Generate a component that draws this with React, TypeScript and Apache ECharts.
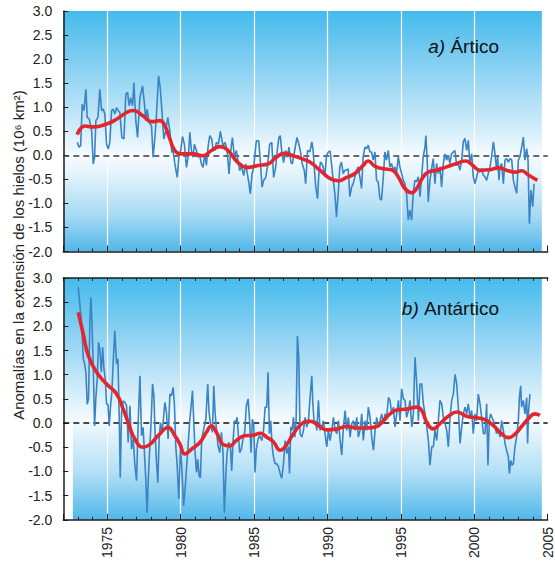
import React, { useEffect, useRef } from "react";
import * as echarts from "echarts";

// ---- Data ----
const arcticMonthly: [number, number][] = [
  [1972.95,0.27],[1973.07,0.17],[1973.18,0.20],[1973.29,1.06],[1973.41,0.93],[1973.54,1.37],[1973.63,0.79],[1973.77,0.75],[1973.93,0.51],[1974.04,-0.18],[1974.13,-0.04],[1974.22,0.72],[1974.36,0.79],[1974.49,1.37],[1974.61,0.93],[1974.72,0.96],[1974.83,0.86],[1974.95,0.23],[1975.06,0.13],[1975.17,0.27],[1975.29,0.93],[1975.40,0.96],[1975.51,0.86],[1975.63,0.99],[1975.74,0.93],[1975.85,0.89],[1975.99,0.37],[1976.13,0.34],[1976.26,1.27],[1976.38,1.31],[1976.49,1.03],[1976.60,1.20],[1976.72,1.03],[1976.81,1.51],[1976.94,0.72],[1977.06,0.37],[1977.22,1.20],[1977.40,1.44],[1977.53,1.06],[1977.62,0.72],[1977.71,0.96],[1977.85,0.68],[1978.01,0.61],[1978.12,-0.04],[1978.24,0.37],[1978.35,0.86],[1978.49,1.65],[1978.60,1.41],[1978.71,0.96],[1978.85,0.34],[1978.98,0.51],[1979.12,0.79],[1979.26,0.51],[1979.39,0.06],[1979.48,0.10],[1979.60,-0.18],[1979.76,-0.46],[1979.89,0.03],[1980.00,0.10],[1980.12,0.39],[1980.25,0.23],[1980.39,-0.25],[1980.53,0.03],[1980.62,0.48],[1980.73,0.10],[1980.84,-0.04],[1980.93,0.23],[1981.07,0.10],[1981.18,-0.04],[1981.30,-0.01],[1981.41,-0.18],[1981.52,-0.25],[1981.64,0.03],[1981.75,-0.21],[1981.86,0.17],[1981.98,0.41],[1982.11,0.34],[1982.20,0.13],[1982.32,0.10],[1982.43,0.27],[1982.57,0.23],[1982.70,0.50],[1982.79,0.34],[1982.88,0.20],[1983.02,0.27],[1983.16,0.10],[1983.29,-0.39],[1983.41,0.10],[1983.52,0.37],[1983.66,-0.04],[1983.79,0.10],[1983.93,-0.18],[1984.02,-0.32],[1984.13,-0.21],[1984.29,-0.42],[1984.43,-0.18],[1984.54,-0.39],[1984.65,-0.59],[1984.74,-0.80],[1984.86,-0.39],[1984.97,-0.25],[1985.15,0.30],[1985.31,0.30],[1985.42,-0.11],[1985.54,-0.66],[1985.65,-0.52],[1985.79,-0.46],[1985.92,-0.21],[1986.06,0.23],[1986.20,0.27],[1986.33,-0.46],[1986.47,-0.25],[1986.56,0.06],[1986.69,0.37],[1986.78,0.41],[1986.90,0.03],[1987.01,-0.15],[1987.15,0.10],[1987.28,-0.04],[1987.37,0.17],[1987.51,-0.15],[1987.60,-0.18],[1987.76,0.10],[1987.92,0.37],[1988.05,0.23],[1988.14,0.10],[1988.28,-0.18],[1988.42,-0.32],[1988.51,-0.59],[1988.64,0.10],
  [1988.80,0.07],[1988.93,0.28],[1989.02,0.10],[1989.11,-0.31],[1989.20,-0.66],[1989.32,-0.90],[1989.41,-0.38],[1989.52,-0.14],[1989.61,-0.17],[1989.70,-0.24],[1989.82,-0.45],[1989.93,0.00],[1990.07,0.07],[1990.18,0.09],[1990.27,-0.17],[1990.39,-0.52],[1990.50,-0.79],[1990.61,-1.28],[1990.73,-0.79],[1990.84,-0.24],[1990.95,-0.14],[1991.07,-0.38],[1991.18,-0.31],[1991.30,-0.31],[1991.41,-0.28],[1991.52,-0.86],[1991.64,-0.66],[1991.75,-0.59],[1991.86,-0.45],[1991.98,-0.31],[1992.09,-0.24],[1992.20,-0.45],[1992.32,-0.69],[1992.43,-0.03],[1992.55,0.17],[1992.66,0.14],[1992.77,0.21],[1992.89,0.07],[1993.00,0.07],[1993.11,-0.10],[1993.23,0.07],[1993.34,-0.52],[1993.45,-0.55],[1993.57,-0.90],[1993.68,-0.93],[1993.80,-0.45],[1993.91,0.07],[1994.02,-0.10],[1994.14,0.10],[1994.25,-0.24],[1994.36,-0.17],[1994.48,-0.31],[1994.59,-0.24],[1994.70,-0.38],[1994.82,-0.03],[1994.93,-0.24],[1995.05,-0.38],[1995.16,-0.52],[1995.27,-0.59],[1995.39,-0.83],[1995.50,-1.35],[1995.61,-1.14],[1995.73,-1.35],[1995.84,-0.79],[1995.95,-0.52],[1996.07,-0.55],[1996.18,-0.45],[1996.30,-0.86],[1996.41,-0.45],[1996.52,-0.03],[1996.64,0.17],[1996.70,0.41],[1996.80,-0.17],[1996.86,-0.97],[1996.98,-0.52],[1997.09,-0.28],[1997.20,-0.07],[1997.32,-0.59],[1997.43,-0.17],[1997.55,-0.38],[1997.66,-0.24],[1997.77,-0.66],[1997.89,-0.17],[1998.00,0.03],[1998.11,-0.10],[1998.23,0.00],[1998.34,-0.17],[1998.45,0.03],[1998.57,0.07],[1998.68,0.10],[1998.80,-0.21],[1998.91,-0.17],[1999.02,-0.31],[1999.14,-0.10],[1999.25,0.28],[1999.36,0.35],[1999.48,0.10],[1999.59,0.31],[1999.70,-0.17],[1999.82,0.03],[1999.93,-0.45],[2000.05,-0.59],[2000.16,-0.45],[2000.27,-0.31],[2000.39,-0.35],[2000.50,-0.28],[2000.61,-0.41],[2000.73,-0.45],[2000.84,-0.52],[2000.95,-0.38],[2001.07,-0.24],[2001.18,-0.03],[2001.30,0.28],[2001.41,0.03],[2001.52,-0.31],[2001.59,-0.03],[2001.68,-0.52],[2001.75,-0.24],[2001.86,-0.17],[2001.98,-0.59],[2002.09,-0.10],[2002.20,-0.07],[2002.32,-0.14],[2002.43,-0.07],[2002.55,-0.10],[2002.66,-0.52],[2002.77,-0.66],[2002.89,-0.79],[2003.00,-0.10],[2003.11,-0.03],[2003.23,0.17],[2003.34,0.38],[2003.45,-0.10],[2003.57,0.14],[2003.66,-0.10],[2003.75,-1.42],[2003.86,-0.72],[2003.98,-1.07],[2004.07,-0.59],
];

const arcticTrend: [number, number][] = [
  [1972.95,0.43],[1973.47,0.61],[1974.04,0.59],[1974.95,0.65],[1975.63,0.75],[1976.31,0.89],[1976.76,0.93],[1977.44,0.82],[1978.01,0.70],[1978.58,0.72],[1978.92,0.61],[1979.26,0.34],[1979.60,0.10],[1980.05,0.03],[1980.84,0.03],[1981.52,-0.01],[1982.09,0.10],[1982.66,0.18],[1983.22,0.10],[1983.90,-0.15],[1984.59,-0.25],[1985.27,-0.21],[1985.95,-0.18],[1986.51,-0.04],[1987.08,0.04],[1987.65,-0.01],[1988.33,-0.08],[1988.80,-0.14],[1989.48,-0.31],[1990.16,-0.48],[1990.73,-0.53],[1991.30,-0.46],[1991.86,-0.38],[1992.43,-0.21],[1992.77,-0.12],[1993.23,-0.23],[1993.80,-0.28],[1994.36,-0.30],[1994.82,-0.45],[1995.27,-0.69],[1995.73,-0.78],[1996.07,-0.69],[1996.52,-0.45],[1996.86,-0.35],[1997.43,-0.31],[1998.11,-0.24],[1998.80,-0.17],[1999.41,-0.12],[1999.82,-0.19],[2000.39,-0.31],[2001.07,-0.30],[2001.64,-0.26],[2002.20,-0.31],[2002.77,-0.35],[2003.23,-0.32],[2003.68,-0.41],[2004.30,-0.52],
];

const antarcticMonthly: [number, number][] = [
  [1973.02,2.81],[1973.09,2.57],[1973.18,2.29],[1973.27,1.95],[1973.36,1.33],[1973.45,1.22],[1973.54,1.05],[1973.63,0.39],[1973.72,0.50],[1973.81,2.09],[1973.88,2.60],[1973.95,2.09],[1974.04,1.19],[1974.13,-0.06],[1974.22,0.53],[1974.31,0.91],[1974.40,1.67],[1974.49,1.53],[1974.59,1.05],[1974.68,1.57],[1974.77,1.12],[1974.86,0.91],[1974.95,0.39],[1975.04,0.39],[1975.13,-0.06],[1975.22,0.36],[1975.31,0.64],[1975.40,1.26],[1975.51,1.91],[1975.63,1.22],[1975.72,1.33],[1975.81,0.15],[1975.88,-1.13],[1975.97,0.22],[1976.08,0.46],[1976.20,0.43],[1976.31,0.36],[1976.42,-0.40],[1976.54,0.36],[1976.65,-0.54],[1976.76,-0.33],[1976.88,-0.88],[1976.99,-1.19],[1977.10,0.01],[1977.22,0.98],[1977.33,-0.26],[1977.44,-0.09],[1977.56,-0.81],[1977.62,-1.16],[1977.71,-1.85],[1977.80,-1.09],[1977.90,-0.47],[1977.99,0.08],[1978.08,0.81],[1978.17,0.57],[1978.26,-0.26],[1978.35,-0.81],[1978.44,-1.23],[1978.53,-0.33],[1978.62,0.01],[1978.71,-0.16],[1978.80,0.01],[1978.92,0.43],[1979.03,0.22],[1979.14,-0.33],[1979.26,0.60],[1979.37,0.57],[1979.48,0.74],[1979.57,0.39],[1979.66,-0.47],[1979.76,-0.88],[1979.87,-1.57],[1979.98,-0.54],[1980.07,-0.88],[1980.19,-1.71],[1980.28,-1.44],[1980.39,-0.95],[1980.50,-0.47],[1980.62,0.08],[1980.71,0.36],[1980.80,0.67],[1980.89,0.01],[1980.98,-0.61],[1981.07,-1.02],[1981.16,-0.75],[1981.25,-1.09],[1981.34,-1.13],[1981.43,-0.33],[1981.57,-0.12],[1981.71,0.08],[1981.84,0.81],[1981.93,0.22],[1982.02,0.01],[1982.16,-0.19],[1982.25,0.77],[1982.34,0.22],[1982.43,-0.12],[1982.54,-0.47],[1982.66,-0.61],[1982.77,-0.19],[1982.88,-0.61],[1982.97,-1.85],[1983.07,-1.09],[1983.16,-0.61],[1983.27,-0.40],[1983.38,-0.47],[1983.47,-0.99],[1983.56,-0.40],[1983.66,0.05],[1983.75,0.01],[1983.84,0.12],[1983.93,-0.26],[1984.02,-0.61],[1984.13,-0.54],[1984.24,-0.33],[1984.36,-0.19],[1984.47,0.36],[1984.59,0.50],[1984.70,0.01],[1984.79,-0.61],[1984.88,0.08],[1984.97,-0.02],[1985.06,-1.02],[1985.15,-0.54],[1985.27,-0.33],[1985.38,-0.26],
  [1985.52,-0.36],[1985.64,-0.15],[1985.75,0.33],[1985.86,0.33],[1985.95,1.05],[1986.04,-0.22],[1986.13,0.05],[1986.23,-0.49],[1986.32,-0.70],[1986.43,-0.84],[1986.54,-0.84],[1986.66,-0.90],[1986.77,-1.04],[1986.88,-1.14],[1987.00,-0.84],[1987.11,-0.36],[1987.22,-0.63],[1987.34,-0.49],[1987.41,-1.04],[1987.50,-0.08],[1987.59,-0.15],[1987.68,0.12],[1987.77,-0.29],[1987.86,0.05],[1987.95,1.80],[1988.04,1.36],[1988.13,-0.22],[1988.25,-0.29],[1988.36,-0.15],[1988.47,0.12],[1988.59,-0.08],[1988.70,0.05],[1988.81,0.53],[1988.93,0.98],[1988.99,0.47],[1989.09,-0.01],[1989.18,0.05],[1989.27,-0.15],[1989.38,0.47],[1989.49,-0.15],[1989.61,-0.08],[1989.72,0.05],[1989.83,-0.22],[1989.95,-0.49],[1990.06,-0.15],[1990.17,-0.36],[1990.29,-0.15],[1990.40,0.12],[1990.52,-0.15],[1990.63,-0.22],[1990.74,0.05],[1990.86,-0.36],[1990.97,-0.66],[1991.08,-0.08],[1991.20,0.26],[1991.31,-0.15],[1991.42,0.12],[1991.54,-0.29],[1991.65,-0.01],[1991.76,0.05],[1991.88,-0.15],[1991.99,0.12],[1992.10,-0.29],[1992.22,-0.15],[1992.33,0.19],[1992.44,-0.36],[1992.56,0.05],[1992.67,-0.15],[1992.78,0.33],[1992.90,0.12],[1993.01,-0.29],[1993.13,-0.56],[1993.24,-0.15],[1993.35,0.12],[1993.47,-0.08],[1993.58,0.05],[1993.69,0.19],[1993.81,-0.01],[1993.92,0.19],[1994.03,0.12],[1994.15,0.53],[1994.26,0.47],[1994.37,0.19],[1994.49,0.33],[1994.60,-0.08],[1994.71,0.19],[1994.83,0.47],[1994.94,0.05],[1995.05,0.71],[1995.17,0.50],[1995.28,0.47],[1995.39,0.12],[1995.51,0.26],[1995.62,0.47],[1995.74,-0.08],[1995.85,0.19],[1995.96,1.36],[1996.08,0.81],[1996.19,0.05],[1996.30,0.81],[1996.42,0.81],[1996.53,0.40],[1996.64,0.19],[1996.76,-0.08],[1996.87,-0.36],[1996.98,-0.87],[1997.10,-0.49],[1997.21,-0.49],[1997.32,-0.15],[1997.44,-0.36],[1997.55,0.05],[1997.66,0.47],[1997.78,0.40],[1997.89,0.12],[1998.01,-0.01],[1998.12,-0.15],[1998.23,-0.49],[1998.35,0.12],[1998.46,0.47],[1998.57,0.60],[1998.69,1.01],[1998.80,0.81],[1998.91,0.33],[1999.03,-0.42],[1999.14,-0.08],[1999.25,0.19],[1999.37,0.33],[1999.48,0.19],[1999.59,0.40],[1999.71,0.12],[1999.82,0.26],[1999.93,-0.22],[2000.05,0.19],[2000.16,0.05],[2000.27,0.60],[2000.39,0.40],[2000.50,0.12],[2000.62,-0.22],[2000.73,-0.22],[2000.84,0.40],[2000.93,-0.87],[2001.02,0.05],[2001.11,0.19],[2001.20,0.12],[2001.30,0.05],[2001.41,-0.08],[2001.52,-0.22],[2001.64,-0.15],[2001.75,-0.29],[2001.86,0.05],[2001.98,-0.15],[2002.09,-0.42],[2002.20,-0.56],[2002.32,-0.70],[2002.39,-1.04],[2002.48,-0.77],[2002.57,-0.87],[2002.66,-0.84],[2002.77,-0.49],[2002.88,-0.29],[2003.00,0.05],[2003.07,0.53],[2003.16,0.77],[2003.22,0.33],[2003.34,0.47],[2003.45,0.19],[2003.57,0.53],[2003.63,-0.42],[2003.70,0.26],[2003.79,0.60],
];

const antarcticTrend: [number, number][] = [
  [1973.02,2.29],[1973.36,1.84],[1973.70,1.40],[1974.27,1.05],[1974.95,0.81],[1975.63,0.60],[1976.08,0.29],[1976.42,0.01],[1976.88,-0.33],[1977.44,-0.50],[1977.90,-0.44],[1978.46,-0.26],[1979.14,-0.09],[1979.60,-0.26],[1979.94,-0.43],[1980.28,-0.64],[1980.73,-0.54],[1981.30,-0.40],[1981.75,-0.19],[1982.09,-0.06],[1982.43,-0.19],[1982.88,-0.44],[1983.34,-0.47],[1983.79,-0.36],[1984.36,-0.26],[1984.93,-0.25],[1985.41,-0.21],[1985.86,-0.29],[1986.32,-0.39],[1986.77,-0.56],[1987.11,-0.49],[1987.68,-0.22],[1988.25,-0.01],[1988.81,0.04],[1989.38,-0.05],[1989.95,-0.14],[1990.63,-0.12],[1991.31,-0.07],[1991.99,-0.10],[1992.67,-0.10],[1993.35,-0.07],[1993.81,0.05],[1994.26,0.19],[1994.71,0.27],[1995.39,0.29],[1996.08,0.33],[1996.42,0.26],[1996.76,0.02],[1997.21,-0.12],[1997.66,-0.01],[1998.23,0.14],[1998.80,0.23],[1999.48,0.14],[2000.16,0.11],[2000.73,0.07],[2001.30,-0.05],[2001.86,-0.22],[2002.32,-0.30],[2002.77,-0.23],[2003.22,-0.07],[2003.68,0.09],[2004.13,0.19],[2004.47,0.16],
];

const xLabelYears = [1975, 1980, 1985, 1990, 1995, 2000, 2005];
const titleA = "Ártico";
const titleB = "Antártico";
const yAxisTitle = "Anomalías en la extensión de los hielos (10\u2076 km\u00b2)";

// ---- Styles ----
const FONT = "Liberation Sans, Arial, sans-serif";
const AXIS_COLOR = "#1c1c1c";
const BLUE = "#3a84c5";
const RED = "#e2262c";

const grad = (stops: [number, string][]) => ({
  type: "linear",
  x: 0, y: 0, x2: 0, y2: 1,
  colorStops: stops.map(([offset, color]) => ({ offset, color })),
});

const xAxisBase = (gridIndex: number, position: "top" | "bottom", labels: boolean, split: boolean) => ({
  type: "value",
  gridIndex,
  position,
  min: 1972,
  max: 2005,
  minInterval: 5,
  maxInterval: 5,
  z: 3,
  axisLine: { show: true, onZero: false, lineStyle: { color: AXIS_COLOR, width: 1.5 } },
  axisTick: { show: true, inside: true, length: position === "top" ? 3 : 6, lineStyle: { color: AXIS_COLOR, width: 1 } },
  minorTick: { show: true, splitNumber: 5, length: 3, lineStyle: { color: AXIS_COLOR, width: 1 } },
  minorSplitLine: { show: false },
  splitLine: { show: split, showMinLine: false, showMaxLine: false, lineStyle: { color: "#ffffff", width: 1.2 } },
  axisLabel: {
    show: labels,
    rotate: 90,
    margin: 7,
    fontSize: 14,
    fontFamily: FONT,
    color: "#222",
    showMinLabel: false,
    formatter: (v: number) => (xLabelYears.includes(v) ? String(v) : ""),
  },
});

const yAxisBase = (gridIndex: number) => ({
  type: "value",
  gridIndex,
  min: -2,
  max: 3,
  interval: 0.5,
  z: 3,
  axisLine: { show: true, onZero: false, lineStyle: { color: AXIS_COLOR, width: 1.5 } },
  axisTick: { show: true, inside: true, length: 5, lineStyle: { color: AXIS_COLOR, width: 1 } },
  splitLine: { show: false },
  axisLabel: {
    margin: 11,
    fontSize: 14,
    fontFamily: FONT,
    color: "#222",
    formatter: (v: number) => v.toFixed(1),
  },
});

const zeroLine = (color: string) => ({
  silent: true,
  symbol: ["none", "none"],
  label: { show: false },
  lineStyle: { color, width: 1.5, type: [6, 4] },
  data: [{ yAxis: 0 }],
});

export default function App() {
  const ref = useRef<HTMLDivElement>(null);

  useEffect(() => {
    if (!ref.current) return;
    const chart = echarts.init(ref.current, undefined, { renderer: "svg" });

    const option: any = {
      animation: false,
      backgroundColor: "#ffffff",
      grid: [
        { left: 63.3, top: 11, width: 484.4, height: 240.5, show: false },
        { left: 63.3, top: 278, width: 484.4, height: 243.5, show: false },
      ],
      xAxis: [
        xAxisBase(0, "bottom", false, true),
        xAxisBase(1, "bottom", true, true),
        xAxisBase(1, "top", false, false),
      ],
      yAxis: [yAxisBase(0), yAxisBase(1)],
      series: [
        {
          type: "line",
          xAxisIndex: 0,
          yAxisIndex: 0,
          data: arcticMonthly,
          symbol: "none",
          z: 6,
          lineStyle: { color: BLUE, width: 1.6 },
          markArea: {
            silent: true,
            label: { show: false },
            data: [
              [
                {
                  xAxis: 1972,
                  yAxis: 3,
                  itemStyle: {
                    color: grad([
                      [0, "#44bbec"],
                      [0.2, "#7fcdf1"],
                      [0.45, "#c6e8f9"],
                      [0.6, "#f6fbfe"],
                      [0.68, "#e4f3fc"],
                      [0.85, "#a6daf4"],
                      [1, "#50b7ea"],
                    ]),
                  },
                },
                { xAxis: 2004.6, yAxis: -2 },
              ],
            ],
          },
          markLine: zeroLine("#3a3a3a"),
        },
        {
          type: "line",
          xAxisIndex: 0,
          yAxisIndex: 0,
          data: arcticTrend,
          symbol: "none",
          smooth: 0.5,
          z: 7,
          lineStyle: { color: RED, width: 3.6 },
        },
        {
          type: "line",
          xAxisIndex: 1,
          yAxisIndex: 1,
          data: antarcticMonthly,
          symbol: "none",
          z: 6,
          lineStyle: { color: BLUE, width: 1.6 },
          markArea: {
            silent: true,
            label: { show: false },
            data: [
              [
                {
                  xAxis: 1972,
                  yAxis: 3,
                  itemStyle: {
                    color: grad([
                      [0, "#44bbec"],
                      [0.4, "#8fd2f2"],
                      [0.8, "#d6eefa"],
                      [1, "#f7fcff"],
                    ]),
                  },
                },
                { xAxis: 2004.6, yAxis: 0 },
              ],
              [
                {
                  xAxis: 1972.65,
                  yAxis: 0,
                  itemStyle: {
                    color: grad([
                      [0, "#eef8fd"],
                      [0.5, "#b4e0f6"],
                      [1, "#50b7ea"],
                    ]),
                  },
                },
                { xAxis: 2004.6, yAxis: -2 },
              ],
            ],
          },
          markLine: zeroLine("#111111"),
        },
        {
          type: "line",
          xAxisIndex: 1,
          yAxisIndex: 1,
          data: antarcticTrend,
          symbol: "none",
          smooth: 0.5,
          z: 7,
          lineStyle: { color: RED, width: 3.6 },
        },
      ],
      graphic: [
        {
          type: "text",
          x: 499,
          y: 46,
          z: 10,
          style: {
            text: "{i|a)} {n|" + titleA + "}",
            align: "right",
            verticalAlign: "middle",
            fontFamily: FONT,
            fontSize: 19,
            fill: "#111",
            rich: {
              i: { fontStyle: "italic", fontFamily: FONT, fontSize: 19, fill: "#111" },
              n: { fontFamily: FONT, fontSize: 19, fill: "#111" },
            },
          },
        },
        {
          type: "text",
          x: 499,
          y: 308,
          z: 10,
          style: {
            text: "{i|b)} {n|" + titleB + "}",
            align: "right",
            verticalAlign: "middle",
            fontFamily: FONT,
            fontSize: 19,
            fill: "#111",
            rich: {
              i: { fontStyle: "italic", fontFamily: FONT, fontSize: 19, fill: "#111" },
              n: { fontFamily: FONT, fontSize: 19, fill: "#111" },
            },
          },
        },
        {
          type: "text",
          x: 18,
          y: 255,
          rotation: Math.PI / 2,
          style: {
            text: yAxisTitle,
            align: "center",
            verticalAlign: "middle",
            fontFamily: FONT,
            fontSize: 15,
            fill: "#222",
          },
        },
      ],
    };

    chart.setOption(option);
    return () => chart.dispose();
  }, []);

  return (
    <div
      ref={ref}
      style={{ position: "fixed", left: 0, top: 0, width: 555, height: 561 }}
    />
  );
}
